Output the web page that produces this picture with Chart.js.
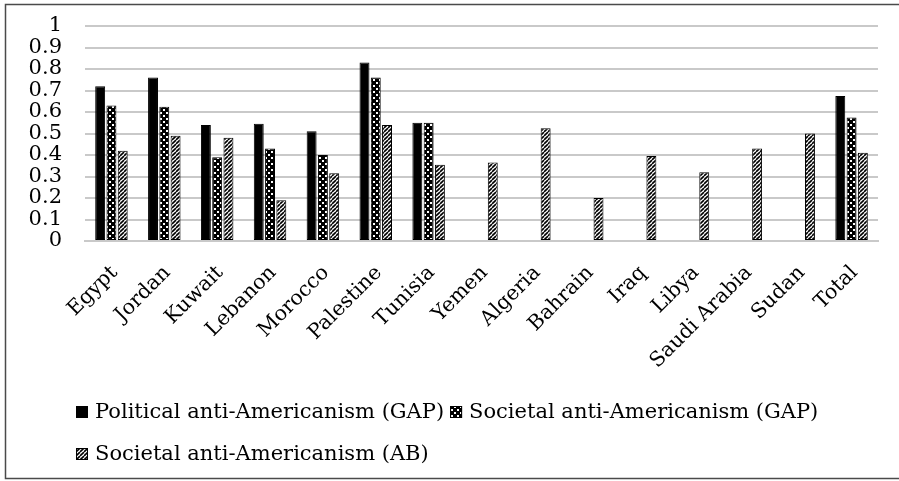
<!DOCTYPE html>
<html>
<head>
<meta charset="utf-8">
<title>Anti-Americanism by country</title>
<script src="https://cdn.jsdelivr.net/npm/chart.js@4.4.0/dist/chart.umd.min.js"></script>
<style>
  html, body { margin: 0; padding: 0; background: #fff; }
  #wrap { position: relative; width: 899px; height: 481px; }
</style>
</head>
<body>
<div id="wrap"><canvas id="chart" width="899" height="481"></canvas></div>
<script>
// --- Data ---
const countries = ['Egypt', 'Jordan', 'Kuwait', 'Lebanon', 'Morocco', 'Palestine', 'Tunisia',
  'Yemen', 'Algeria', 'Bahrain', 'Iraq', 'Libya', 'Saudi Arabia', 'Sudan', 'Total'];

const politicalGap = [0.72, 0.76, 0.54, 0.545, 0.51, 0.83, 0.55, null, null, null, null, null, null, null, 0.675];
const societalGap  = [0.63, 0.625, 0.39, 0.43, 0.40, 0.76, 0.55, null, null, null, null, null, null, null, 0.575];
const societalAb   = [0.42, 0.49, 0.48, 0.19, 0.315, 0.54, 0.355, 0.365, 0.525, 0.20, 0.395, 0.32, 0.43, 0.50, 0.41];

const seriesNames = ['Political anti-Americanism (GAP)', 'Societal anti-Americanism (GAP)', 'Societal anti-Americanism (AB)'];
const yTickLabels = ['0', '0.1', '0.2', '0.3', '0.4', '0.5', '0.6', '0.7', '0.8', '0.9', '1'];

const FONT = 'DejaVu Serif';

// --- Fill patterns ---
function dotPattern() {
  const c = document.createElement('canvas');
  c.width = 6; c.height = 6;
  const g = c.getContext('2d');
  g.fillStyle = '#000';
  g.fillRect(0, 0, 6, 6);
  g.fillStyle = '#fff';
  g.fillRect(1, 1, 2, 2);
  g.fillRect(4, 4, 2, 2);
  return g.createPattern(c, 'repeat');
}

function hatchPattern() {
  const c = document.createElement('canvas');
  c.width = 4; c.height = 4;
  const g = c.getContext('2d');
  g.fillStyle = '#fff';
  g.fillRect(0, 0, 4, 4);
  g.strokeStyle = '#000';
  g.lineWidth = 1.6;
  [-4, 0, 4].forEach((o) => {
    g.beginPath();
    g.moveTo(o, 4);
    g.lineTo(o + 4, 0);
    g.stroke();
  });
  return g.createPattern(c, 'repeat');
}

const fills = ['#000', dotPattern(), hatchPattern()];

// --- Plugins ---
const frame = {
  id: 'frame',
  afterDraw(chart) {
    const ctx = chart.ctx;
    ctx.save();
    ctx.strokeStyle = '#4a4a4a';
    ctx.lineWidth = 1.5;
    ctx.strokeRect(5.5, 4.5, 900, 474);
    ctx.restore();
  }
};

// two-row legend under the axis
const bottomLegend = {
  id: 'bottomLegend',
  afterDraw(chart) {
    const ctx = chart.ctx;
    const rows = [[0, 1], [2]];
    const baselines = [418, 460];
    ctx.save();
    ctx.font = `21px "${FONT}"`;
    ctx.textBaseline = 'alphabetic';
    rows.forEach((row, r) => {
      let x = 76;
      const y = baselines[r];
      row.forEach((i) => {
        const ds = chart.data.datasets[i];
        ctx.fillStyle = ds.backgroundColor;
        ctx.fillRect(x, y - 12, 12, 12);
        ctx.strokeStyle = '#000';
        ctx.lineWidth = 1;
        ctx.strokeRect(x + 0.5, y - 11.5, 11, 11);
        ctx.fillStyle = '#000';
        ctx.fillText(ds.label, x + 19, y);
        x += 19 + ctx.measureText(ds.label).width + 6;
      });
    });
    ctx.restore();
  }
};

// --- Chart ---
const datasets = [politicalGap, societalGap, societalAb].map((values, i) => ({
  label: seriesNames[i],
  data: values,
  backgroundColor: fills[i],
  borderColor: '#000',
  borderWidth: 1,
  borderSkipped: false,
  categoryPercentage: 0.64,
  barPercentage: 0.88
}));

new Chart(document.getElementById('chart'), {
  type: 'bar',
  data: { labels: countries, datasets: datasets },
  options: {
    responsive: false,
    animation: false,
    events: [],
    layout: { padding: { top: 26, right: 21, bottom: 100, left: 0 } },
    plugins: {
      legend: { display: false },
      tooltip: { enabled: false }
    },
    scales: {
      x: {
        grid: { display: false },
        border: { display: true, color: '#c9c9c9', width: 2 },
        ticks: {
          color: '#000',
          font: { family: FONT, size: 20.5 },
          minRotation: 45,
          maxRotation: 45,
          autoSkip: false,
          padding: 12,
          labelOffset: 3
        },
        afterFit(scale) { scale.height = 140; }
      },
      y: {
        min: 0,
        max: 1,
        // invisible tick marks keep the labels clear of the plot
        grid: { color: '#c9c9c9', lineWidth: 2, drawTicks: true, tickLength: 23, tickColor: 'rgba(0,0,0,0)' },
        border: { display: false },
        ticks: {
          stepSize: 0.1,
          autoSkip: false,
          color: '#000',
          padding: 0,
          font: { family: FONT, size: 21, lineHeight: 1 },
          callback: (v, i) => yTickLabels[i]
        },
        afterFit(scale) { scale.width = 85; }
      }
    }
  },
  plugins: [frame, bottomLegend]
});
</script>
</body>
</html>
